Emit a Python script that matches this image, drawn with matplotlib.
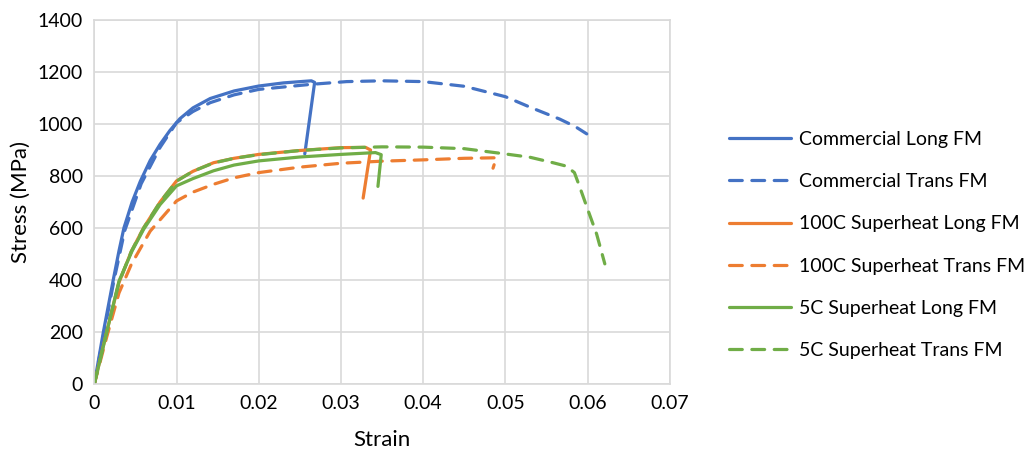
import matplotlib
matplotlib.use("Agg")
import matplotlib.pyplot as plt

# ---- data ----
com_long_strain = [0, 0.0011, 0.0023, 0.0030, 0.0036, 0.0046, 0.0056, 0.0068, 0.0080, 0.0092,
                   0.0104, 0.0120, 0.0141, 0.0170, 0.0200, 0.0230, 0.0255, 0.0264, 0.0268, 0.0256]
com_long_stress = [0, 200, 400, 512, 600, 700, 780, 860, 922, 975,
                   1020, 1062, 1098, 1127, 1146, 1158, 1164, 1166, 1160, 885]

com_trans_strain = [0, 0.0012, 0.0024, 0.0037, 0.0057, 0.0080, 0.0100, 0.0120, 0.0141, 0.0170,
                    0.0200, 0.0262, 0.0307, 0.0350, 0.0400, 0.0450, 0.0500, 0.0532, 0.0566,
                    0.0585, 0.0599]
com_trans_stress = [0, 200, 400, 590, 770, 910, 1005, 1048, 1082, 1112,
                    1133, 1152, 1163, 1166, 1163, 1145, 1105, 1062, 1019,
                    990, 962]

h100_long_strain = [0, 0.0015, 0.0030, 0.0045, 0.0060, 0.0080, 0.0100, 0.0120, 0.0145, 0.0170,
                    0.0200, 0.0250, 0.0300, 0.0330, 0.0336, 0.0327]
h100_long_stress = [0, 200, 390, 510, 601, 700, 781, 818, 851, 868,
                    883, 898, 909, 910, 900, 715]

h100_trans_strain = [0, 0.0015, 0.0030, 0.0045, 0.0068, 0.0100, 0.0120, 0.0145, 0.0170, 0.0200,
                     0.0250, 0.0300, 0.0350, 0.0400, 0.0450, 0.0489, 0.0485]
h100_trans_stress = [0, 180, 350, 460, 588, 704, 738, 768, 793, 813,
                     834, 849, 857, 862, 868, 870, 830]

h5_long_strain = [0, 0.0015, 0.0030, 0.0046, 0.0060, 0.0080, 0.0100, 0.0120, 0.0145, 0.0170,
                  0.0200, 0.0250, 0.0300, 0.0342, 0.0349, 0.0345]
h5_long_stress = [0, 198, 396, 512, 595, 690, 762, 790, 820, 842,
                  858, 873, 883, 890, 882, 760]

h5_trans_strain = [0, 0.0015, 0.0030, 0.0045, 0.0060, 0.0080, 0.0100, 0.0120, 0.0145, 0.0170,
                   0.0200, 0.0250, 0.0300, 0.0350, 0.0400, 0.0450, 0.0497, 0.0530, 0.0558,
                   0.0574, 0.0584, 0.0590, 0.0600, 0.0611, 0.0621]
h5_trans_stress = [0, 200, 390, 510, 600, 700, 780, 818, 850, 868,
                   882, 898, 908, 912, 911, 905, 886, 872, 851,
                   838, 813, 762, 673, 577, 462]

labels = ["Commercial Long FM", "Commercial Trans FM",
          "100C Superheat Long FM", "100C Superheat Trans FM",
          "5C Superheat Long FM", "5C Superheat Trans FM"]

x_ticks = [0, 0.01, 0.02, 0.03, 0.04, 0.05, 0.06, 0.07]
x_tick_labels = ["0", "0.01", "0.02", "0.03", "0.04", "0.05", "0.06", "0.07"]
y_ticks = [0, 200, 400, 600, 800, 1000, 1200, 1400]

BLUE = "#4472C4"
ORANGE = "#ED7D31"
GREEN = "#70AD47"

plt.rcParams['font.family'] = ['Lato', 'DejaVu Sans']

fig = plt.figure(figsize=(10.32, 4.5), dpi=100)
ax = fig.add_axes([0.0914, 0.1467, 0.5576, 0.8089])

lw = 2.3
series = [
    (com_long_strain, com_long_stress, BLUE, '-'),
    (com_trans_strain, com_trans_stress, BLUE, '--'),
    (h100_long_strain, h100_long_stress, ORANGE, '-'),
    (h100_trans_strain, h100_trans_stress, ORANGE, '--'),
    (h5_long_strain, h5_long_stress, GREEN, '-'),
    (h5_trans_strain, h5_trans_stress, GREEN, '--'),
]
handles = []
for (xs, ys, c, ls), lab in zip(series, labels):
    if ls == '--':
        h, = ax.plot(xs, ys, color=c, lw=lw, dashes=(4, 3), label=lab,
                     solid_joinstyle='round', dash_capstyle='round')
    else:
        h, = ax.plot(xs, ys, color=c, lw=lw, label=lab,
                     solid_joinstyle='round', solid_capstyle='round')
    handles.append(h)

ax.set_xlim(0, 0.07)
ax.set_ylim(0, 1400)
ax.set_xticks(x_ticks)
ax.set_xticklabels(x_tick_labels)
ax.set_yticks(y_ticks)
ax.grid(True, color="#D9D9D9", lw=1.2)
ax.set_axisbelow(True)
for s in ax.spines.values():
    s.set_color("#D9D9D9")
    s.set_linewidth(1.2)
ax.tick_params(length=0, labelsize=14, colors="#000000", pad=8)
ax.set_xlabel("Strain", fontsize=16, labelpad=13)
ax.set_ylabel("Stress (MPa)", fontsize=16, labelpad=5)

leg = fig.legend(handles=handles, labels=labels, loc='upper left',
                 bbox_to_anchor=(0.689, 0.748), frameon=False,
                 fontsize=14, handlelength=3.2, handletextpad=0.4,
                 labelspacing=1.3)

fig.savefig("out.png", dpi=100)
